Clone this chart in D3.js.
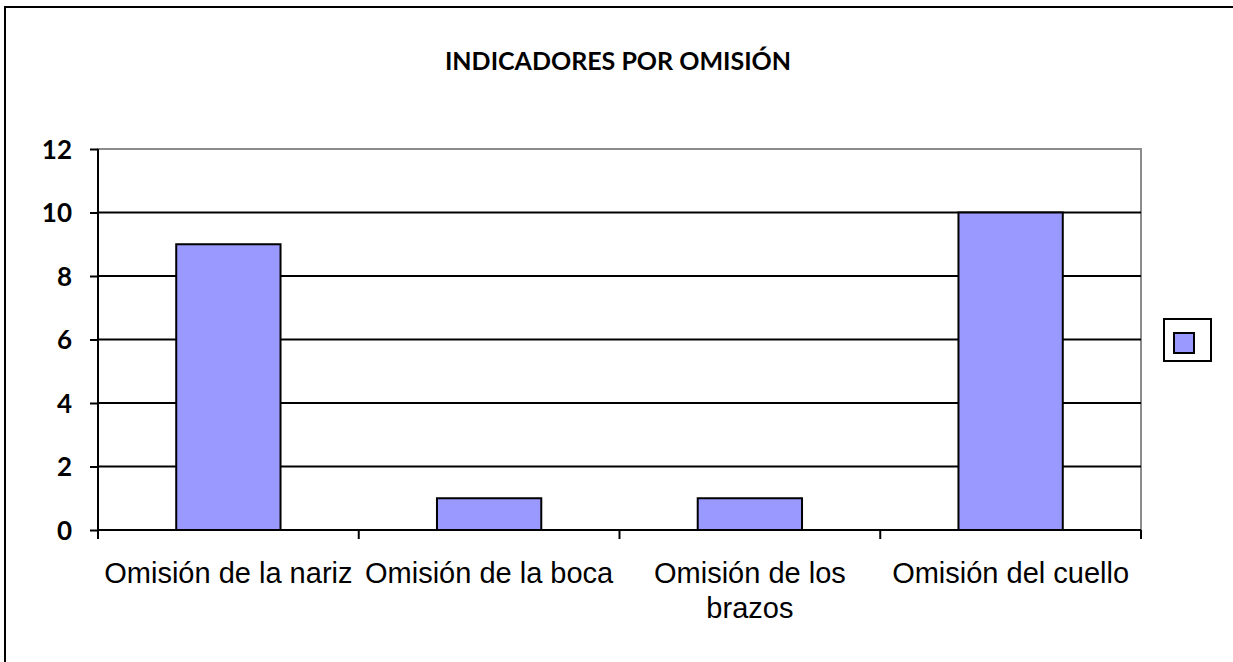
<!DOCTYPE html>
<html><head><meta charset="utf-8">
<script src="https://cdn.jsdelivr.net/npm/d3@7"></script>
<style>body{margin:0;background:#fff}svg{display:block}</style>
</head><body>
<script>
const categories = ["Omisión de la nariz", "Omisión de la boca", "Omisión de los brazos", "Omisión del cuello"];
const categoryLines = [["Omisión de la nariz"], ["Omisión de la boca"], ["Omisión de los", "brazos"], ["Omisión del cuello"]];
const values = [9, 1, 1, 10];
const yTicks = [0, 2, 4, 6, 8, 10, 12];
const title = "INDICADORES POR OMISIÓN";

const W = 1233, H = 662;
const svg = d3.select("body").append("svg").attr("width", W).attr("height", H);

// outer chart border (top and left visible)
svg.append("rect").attr("x", 5).attr("y", 7).attr("width", 1300).attr("height", 800)
  .attr("fill", "none").attr("stroke", "#000").attr("stroke-width", 2);

const m = {left: 98, right: 1141, top: 149, bottom: 530};
const x = d3.scaleBand().domain(categories).range([m.left, m.right]).paddingInner(0.6).paddingOuter(0.3);
const xb = d3.scaleBand().domain(categories).range([m.left, m.right]);
const y = d3.scaleLinear().domain([0, 12]).range([m.bottom, m.top]);

// title
svg.append("text").attr("x", 618).attr("y", 70).attr("text-anchor", "middle")
  .attr("font-family", "Lato, 'Open Sans', sans-serif").attr("font-weight", 700).attr("font-size", 25)
  .attr("fill", "#000").text(title);

// plot area border (gray)
svg.append("rect").attr("x", m.left).attr("y", m.top).attr("width", m.right - m.left).attr("height", m.bottom - m.top)
  .attr("fill", "none").attr("stroke", "#8c8c8c").attr("stroke-width", 2);

// gridlines
svg.append("g").selectAll("line").data(yTicks.filter(d => d > 0 && d < 12)).join("line")
  .attr("x1", m.left).attr("x2", m.right).attr("y1", d => y(d)).attr("y2", d => y(d))
  .attr("stroke", "#000").attr("stroke-width", 2);

// bars
svg.append("g").selectAll("rect").data(values).join("rect")
  .attr("x", (d, i) => x(categories[i])).attr("width", x.bandwidth())
  .attr("y", d => y(d)).attr("height", d => y(0) - y(d))
  .attr("fill", "#9999ff").attr("stroke", "#000").attr("stroke-width", 2);

// y axis
const yAxis = svg.append("g").attr("transform", `translate(${m.left},0)`)
  .call(d3.axisLeft(y).tickValues(yTicks).tickSize(8).tickPadding(18));
yAxis.select(".domain").attr("stroke", "#000").attr("stroke-width", 2).attr("d", `M0,${m.top}V${m.bottom}`);
yAxis.selectAll(".tick line").attr("stroke", "#000").attr("stroke-width", 2);
yAxis.selectAll(".tick text").attr("font-family", "Lato, 'Open Sans', sans-serif").attr("font-weight", 700)
  .attr("font-size", 26).attr("fill", "#000").attr("dy", "0.36em");

// x axis
const xAxis = svg.append("g").attr("transform", `translate(0,${m.bottom})`);
xAxis.append("line").attr("x1", m.left).attr("x2", m.right).attr("stroke", "#000").attr("stroke-width", 2);
const xTickPos = categories.map(c => xb(c)).concat([m.right]);
xAxis.selectAll("line.t").data(xTickPos).join("line").attr("class", "t")
  .attr("x1", d => d).attr("x2", d => d).attr("y1", 0).attr("y2", 9)
  .attr("stroke", "#000").attr("stroke-width", 2);
const lab = xAxis.selectAll("text").data(categoryLines).join("text")
  .attr("x", (d, i) => xb(categories[i]) + xb.bandwidth() / 2).attr("y", 53)
  .attr("text-anchor", "middle").attr("font-family", "'Liberation Sans', Arial, sans-serif")
  .attr("font-size", 29).attr("fill", "#000");
lab.each(function(d) {
  const t = d3.select(this);
  d.forEach((s, k) => t.append("tspan").attr("x", t.attr("x")).attr("dy", k === 0 ? 0 : 35).text(s));
});

// legend
svg.append("rect").attr("x", 1164).attr("y", 319).attr("width", 47).attr("height", 42)
  .attr("fill", "#fff").attr("stroke", "#000").attr("stroke-width", 2);
svg.append("rect").attr("x", 1174).attr("y", 333).attr("width", 20).attr("height", 20)
  .attr("fill", "#9999ff").attr("stroke", "#000").attr("stroke-width", 2);
</script>
</body></html>
